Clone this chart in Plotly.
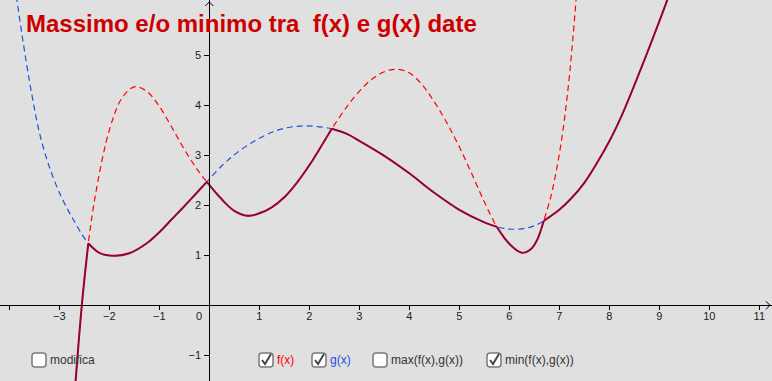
import numpy as np
import plotly.graph_objects as go

W, H = 772, 381
X_RANGE = [-4.186, 11.254]
Y_RANGE = [-1.514, 6.106]

# f(x) (red dashed)
f_x = [-2.75, -2.67, -2.55, -2.42, -2.25, -2.0, -1.75, -1.5, -1.25, -1.0, -0.75, -0.5, -0.25, -0.05,
       0.25, 0.5, 0.78, 1.0, 1.25, 1.5, 1.75, 2.0, 2.25, 2.45, 2.75, 3.0, 3.25, 3.5, 3.75, 4.0,
       4.25, 4.5, 4.75, 5.0, 5.25, 5.5, 5.75, 5.9, 6.05, 6.15, 6.25, 6.35, 6.45, 6.52, 6.58,
       6.64, 6.69, 6.83, 6.955, 7.065, 7.15, 7.22, 7.28, 7.335, 7.385]
f_y = [-2.5, -1.46, 0.0, 1.24, 2.36, 3.5, 4.14, 4.37, 4.28, 3.98, 3.56, 3.12, 2.73, 2.47,
       2.12, 1.89, 1.79, 1.84, 1.96, 2.16, 2.45, 2.8, 3.2, 3.53, 3.97, 4.28, 4.52, 4.67, 4.72, 4.65,
       4.42, 4.07, 3.65, 3.17, 2.63, 2.07, 1.57, 1.35, 1.18, 1.1, 1.05, 1.07, 1.14, 1.24, 1.36,
       1.53, 1.69, 2.17, 2.77, 3.44, 4.11, 4.77, 5.44, 6.11, 6.8]

# g(x) (blue dashed)
g_x = [-3.95, -3.85, -3.75, -3.645, -3.53, -3.395, -3.2, -2.96, -2.7, -2.42, -2.2, -1.92, -1.6,
       -1.25, -1.0, -0.75, -0.5, -0.25, -0.05, 0.25, 0.5, 0.75, 1.0, 1.25, 1.5, 1.75, 1.95, 2.2,
       2.45, 2.75, 3.0, 3.5, 4.0, 4.5, 5.0, 5.5, 5.75, 6.0, 6.25, 6.5, 6.69, 7.0, 7.25, 7.5,
       7.75, 8.0, 8.25, 8.5, 8.75, 9.0, 9.16, 9.4]
g_y = [6.78, 6.11, 5.44, 4.77, 4.11, 3.44, 2.77, 2.17, 1.68, 1.24, 1.05, 0.99, 1.04,
       1.24, 1.46, 1.72, 1.98, 2.25, 2.47, 2.79, 3.01, 3.19, 3.34, 3.46, 3.54, 3.58, 3.59, 3.57,
       3.53, 3.43, 3.29, 2.99, 2.64, 2.25, 1.91, 1.66, 1.57, 1.525, 1.53, 1.59, 1.69, 1.91, 2.15, 2.45,
       2.84, 3.28, 3.8, 4.4, 5.03, 5.68, 6.11, 6.8]

# x positions where f and g cross
cross_x = [-2.42, -0.05, 2.45, 5.75, 6.69]

x_tick_vals = [-4, -3, -2, -1, 1, 2, 3, 4, 5, 6, 7, 8, 9, 10, 11]
x_tick_text = ["", "−3", "−2", "−1", "1", "2", "3", "4", "5", "6", "7", "8", "9", "10", "11"]
y_tick_vals = [-1, 1, 2, 3, 4, 5]
y_tick_text = ["−1", "1", "2", "3", "4", "5"]

title_text = "Massimo e/o minimo tra\u00a0\u00a0f(x) e g(x) date"
cb_labels = ["modifica", "f(x)", "g(x)", "max(f(x),g(x))", "min(f(x),g(x))"]
cb_checked = [False, True, True, False, True]
cb_colors = ["#333333", "#ff0000", "#1e50e0", "#333333", "#333333"]
cb_left = [32, 259, 312, 373, 487]

FONT = "Liberation Sans, Arial, sans-serif"
F_COLOR = "rgb(255,0,0)"
G_COLOR = "rgb(30,80,220)"
MIN_COLOR = "#990033"

fig = go.Figure()
fig.add_trace(go.Scatter(x=f_x, y=f_y, mode="lines", line=dict(color=F_COLOR, width=1.2, dash="6px,4px", shape="spline"),
                         hoverinfo="skip", showlegend=False))
fig.add_trace(go.Scatter(x=g_x, y=g_y, mode="lines", line=dict(color=G_COLOR, width=1.2, dash="6px,4px", shape="spline"),
                         hoverinfo="skip", showlegend=False))

# min(f, g): piecewise, choose lower function between crossings
edges = [-np.inf] + cross_x + [np.inf]
for lo, hi in zip(edges[:-1], edges[1:]):
    if np.isinf(lo):
        tx = hi - 0.1
    elif np.isinf(hi):
        tx = lo + 0.1
    else:
        tx = (lo + hi) / 2
    fv = np.interp(tx, f_x, f_y)
    gv = np.interp(tx, g_x, g_y)
    xs, ys = (f_x, f_y) if fv < gv else (g_x, g_y)
    sx = [x for x in xs if lo - 1e-9 <= x <= hi + 1e-9]
    sy = [y for x, y in zip(xs, ys) if lo - 1e-9 <= x <= hi + 1e-9]
    fig.add_trace(go.Scatter(x=sx, y=sy, mode="lines", line=dict(color=MIN_COLOR, width=2, shape="spline"),
                             hoverinfo="skip", showlegend=False))

x_pos = (0 - Y_RANGE[0]) / (Y_RANGE[1] - Y_RANGE[0])
y_pos = (0 - X_RANGE[0]) / (X_RANGE[1] - X_RANGE[0])


def P(px, py):
    return f"{px / W:.5f},{1 - py / H:.5f}"


shapes = []
annotations = []

# axis arrows
ox = y_pos * W
oy = (1 - x_pos) * H
shapes.append(dict(type="path", xref="paper", yref="paper",
                   path=f"M {P(W - 6, oy - 4)} L {P(W - 2, oy)} L {P(W - 6, oy + 4)}",
                   line=dict(color="black", width=1)))
shapes.append(dict(type="path", xref="paper", yref="paper",
                   path=f"M {P(ox - 4, 6)} L {P(ox, 2)} L {P(ox + 4, 6)}",
                   line=dict(color="black", width=1)))

# checkboxes
for lab, chk, col, left in zip(cb_labels, cb_checked, cb_colors, cb_left):
    x0, y0, x1, y1, r = left, 353, left + 14, 367, 3
    path = (f"M {P(x0 + r, y0)} L {P(x1 - r, y0)} Q {P(x1, y0)} {P(x1, y0 + r)} "
            f"L {P(x1, y1 - r)} Q {P(x1, y1)} {P(x1 - r, y1)} L {P(x0 + r, y1)} "
            f"Q {P(x0, y1)} {P(x0, y1 - r)} L {P(x0, y0 + r)} Q {P(x0, y0)} {P(x0 + r, y0)} Z")
    shapes.append(dict(type="path", xref="paper", yref="paper", path=path,
                       fillcolor="white", line=dict(color="#7a7a7a", width=1.5), layer="above"))
    if chk:
        shapes.append(dict(type="path", xref="paper", yref="paper",
                           path=f"M {P(x0 + 3, y0 + 7)} L {P(x0 + 6, y0 + 11)} L {P(x0 + 12, y0 + 1)}",
                           line=dict(color="#444444", width=2), layer="above"))
    annotations.append(dict(xref="paper", yref="paper", x=(x1 + 2) / W, y=1 - 360 / H,
                            xanchor="left", yanchor="middle", showarrow=False, text=lab,
                            font=dict(family=FONT, size=12, color=col)))

annotations.append(dict(xref="paper", yref="paper", x=24 / W, y=1 - 23 / H, xanchor="left", yanchor="middle",
                        showarrow=False, text=f"<b>{title_text}</b>",
                        font=dict(family=FONT, size=24, color="#cc0000")))
annotations.append(dict(xref="paper", yref="paper", x=(ox - 10) / W, y=1 - (oy + 10.5) / H,
                        xanchor="center", yanchor="middle", showarrow=False, text="0",
                        font=dict(family=FONT, size=11, color="#222222")))

fig.update_layout(
    width=W, height=H, autosize=False,
    margin=dict(l=0, r=0, t=0, b=0, pad=0),
    paper_bgcolor="rgb(224,224,224)", plot_bgcolor="rgb(224,224,224)",
    showlegend=False,
    xaxis=dict(range=X_RANGE, anchor="free", position=x_pos, showline=True, linecolor="black", linewidth=1,
               showgrid=False, zeroline=False, ticks="outside", ticklen=4, tickcolor="black", tickwidth=1,
               tickvals=x_tick_vals, ticktext=x_tick_text, ticklabelstandoff=-4,
               tickfont=dict(family=FONT, size=11, color="#222222"), fixedrange=True),
    yaxis=dict(range=Y_RANGE, anchor="free", position=y_pos, showline=True, linecolor="black", linewidth=1,
               showgrid=False, zeroline=False, ticks="outside", ticklen=5, tickcolor="black", tickwidth=1,
               tickvals=y_tick_vals, ticktext=y_tick_text, ticklabelstandoff=1,
               tickfont=dict(family=FONT, size=11, color="#222222"), fixedrange=True),
    shapes=shapes,
    annotations=annotations,
)

fig.write_html("out.html")
